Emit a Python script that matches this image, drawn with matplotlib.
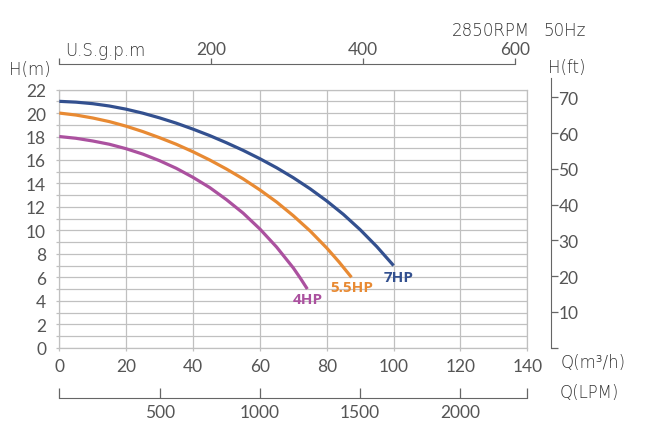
import matplotlib
matplotlib.use('Agg')
import matplotlib.pyplot as plt
from matplotlib.ticker import MultipleLocator, FixedLocator

# Pump curves (flow m3/h, head m)
flow_7hp = [0, 5, 10, 15, 20, 25, 30, 35, 40, 45, 50, 55, 60, 65, 70, 75, 80, 85, 90, 95, 100]
head_7hp = [21.0, 20.93, 20.8, 20.6, 20.33, 19.99, 19.59, 19.14, 18.63, 18.08, 17.47,
            16.82, 16.11, 15.34, 14.49, 13.55, 12.51, 11.36, 10.06, 8.61, 7.0]

flow_55hp = [0, 5, 10, 15, 20, 25, 30, 35, 40, 45, 50, 55, 60, 65, 70, 75, 80, 83.7, 87.4]
head_55hp = [20.0, 19.83, 19.58, 19.27, 18.88, 18.42, 17.9, 17.34, 16.7, 16.0, 15.23,
             14.39, 13.45, 12.42, 11.25, 9.96, 8.5, 7.3, 6.0]

flow_4hp = [0, 5, 10, 15, 20, 25, 30, 35, 40, 45, 50, 55, 60, 65, 70, 72.1, 74.2]
head_4hp = [18.0, 17.85, 17.62, 17.34, 16.96, 16.5, 15.94, 15.29, 14.52, 13.65, 12.62,
            11.47, 10.12, 8.58, 6.8, 5.93, 5.0]

series_names = ['7HP', '5.5HP', '4HP']
series_colors = ['#33508f', '#e88a33', '#ab519f']

x_ticks = [0, 20, 40, 60, 80, 100, 120, 140]
y_ticks = list(range(0, 23, 2))
gpm_ticks = [0, 200, 400, 600]
lpm_ticks = [0, 500, 1000, 1500, 2000, 140 * 1000 / 60]
ft_ticks = [0, 10, 20, 30, 40, 50, 60, 70]

GPM = 0.2271247   # m3/h per US gpm
FT = 3.28084      # ft per m

W, H = 664, 439
grid_c = '#c0c0c0'
txt_c = '#555555'
plt.rcParams['font.family'] = ['Lato', 'DejaVu Sans']

fig = plt.figure(figsize=(W / 100, H / 100), dpi=100)
ax = fig.add_axes([59.3 / W, (H - 348.7) / H, 468 / W, 258.1 / H])

curves = [(flow_7hp, head_7hp), (flow_55hp, head_55hp), (flow_4hp, head_4hp)]
offsets = [(5, -11), (0, -10), (0, -10)]
for (q, h), name, col, off in zip(curves, series_names, series_colors, offsets):
    ax.plot(q, h, color=col, lw=2.3, solid_capstyle='butt', zorder=3)
    ax.annotate(name, (q[-1], h[-1]), xytext=off, textcoords='offset pixels',
                ha='center', va='center', color=col, fontsize=11,
                fontweight='bold', family=['Open Sans', 'DejaVu Sans'])

ax.set_xlim(0, 140)
ax.set_ylim(0, 22)
ax.set_xticks(x_ticks)
ax.set_yticks(y_ticks)
ax.yaxis.set_minor_locator(MultipleLocator(1))
ax.grid(which='major', axis='x', color=grid_c, lw=0.9)
ax.yaxis.grid(which='both', color=grid_c, lw=0.9)
ax.set_axisbelow(True)
for s in ax.spines.values():
    s.set_color(grid_c)
    s.set_linewidth(0.9)
ax.tick_params(axis='both', which='both', colors=grid_c, length=2.5, width=0.9,
               labelcolor=txt_c, labelsize=12.5)
ax.tick_params(axis='x', pad=5)
ax.tick_params(axis='y', pad=7)

# top axis: US gpm
top = ax.secondary_xaxis(1.099, functions=(lambda x: x / GPM, lambda g: g * GPM))
top.xaxis.set_major_locator(FixedLocator(gpm_ticks))
top.set_xticklabels(['', '200', '400', '600'])
top.spines['top'].set_bounds(0, 600)
top.spines['top'].set_color('#666666')
top.tick_params(direction='out', length=4, width=0.9, colors='#666666',
                labelcolor=txt_c, labelsize=12.5, pad=1)

# bottom axis: LPM
bot = ax.secondary_xaxis(-0.195, functions=(lambda x: x * 1000 / 60, lambda l: l * 60 / 1000))
bot.xaxis.set_major_locator(FixedLocator(lpm_ticks))
bot.set_xticklabels(['', '500', '1000', '1500', '2000', ''])
bot.spines['bottom'].set_color('#666666')
bot.tick_params(direction='in', length=7.5, width=0.9, colors='#666666',
                labelcolor=txt_c, labelsize=12.5, pad=4)

# right axis: head in ft
rgt = ax.secondary_yaxis(1.0506, functions=(lambda m: m * FT, lambda f: f / FT))
rgt.yaxis.set_major_locator(FixedLocator(ft_ticks))
rgt.set_yticklabels([''] + [str(t) for t in ft_ticks[1:]])
rgt.spines['right'].set_bounds(0, 75.5)
rgt.spines['right'].set_color('#666666')
rgt.tick_params(direction='out', length=5, width=0.9, colors='#666666',
                labelcolor=txt_c, labelsize=12.5, pad=0.3)

def ftext(x, y, s, **kw):
    fig.text(x / W, 1 - y / H, s, color='#333333', fontsize=12, va='center',
             family=['DejaVu Sans'], fontweight='light', **kw)

ftext(30, 70, 'H(m)', ha='center')
ftext(567, 68, 'H(ft)', ha='center')
ftext(65, 51, 'U.S.g.p.m', ha='left')
ftext(530, 31, '2850RPM', ha='right')
ftext(543, 31, '50Hz', ha='left')
ftext(561, 363, 'Q(m³/h)', ha='left')
ftext(560, 393, 'Q(LPM)', ha='left')

fig.savefig('out.png', dpi=100, facecolor='white')
